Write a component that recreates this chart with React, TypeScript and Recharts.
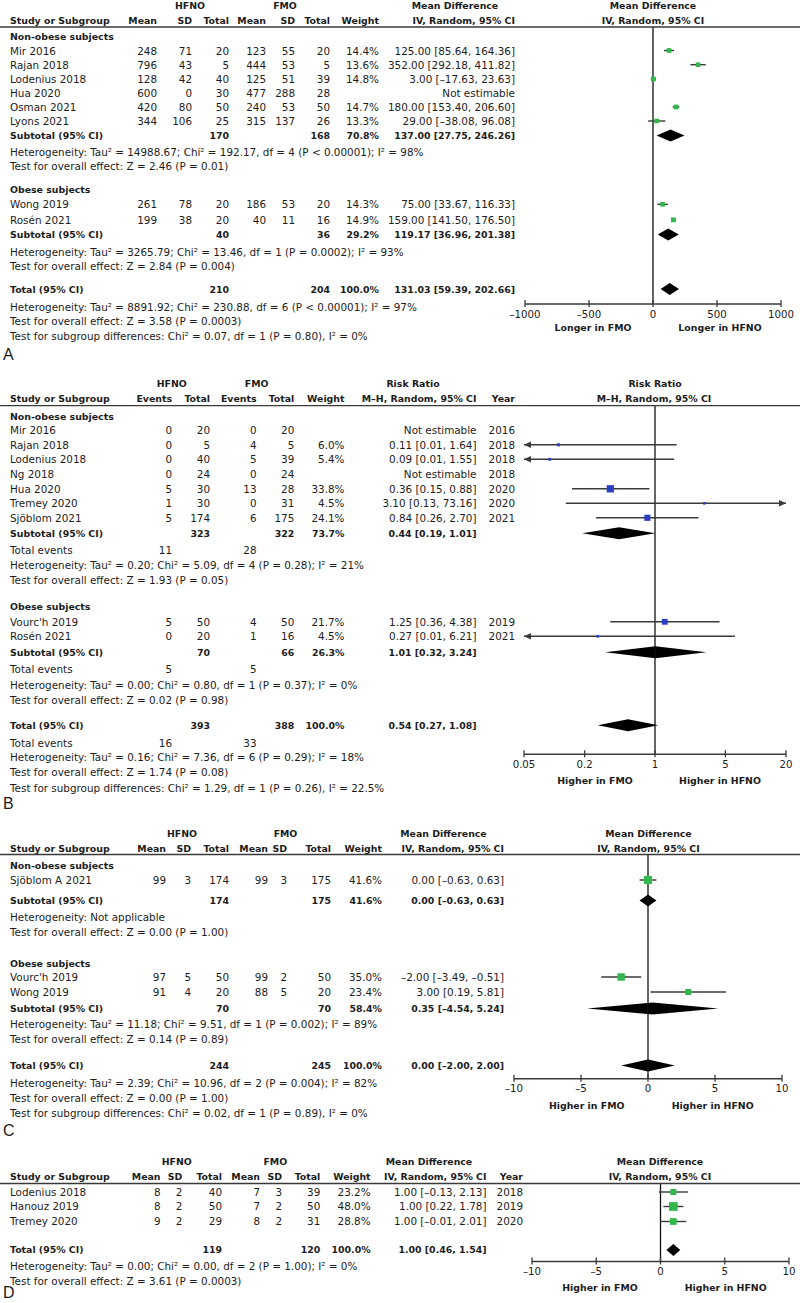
import React from "react";
import { ScatterChart, Scatter, XAxis, YAxis, ReferenceLine, ReferenceArea } from "recharts";

// ---------------- Panel A data (Mean Difference) ----------------
const aNonObese = [
  { study: "Mir 2016", hMean: 248, hSD: 71, hN: 20, fMean: 123, fSD: 55, fN: 20, weight: 14.4, est: 125.0, lo: 85.64, hi: 164.36 },
  { study: "Rajan 2018", hMean: 796, hSD: 43, hN: 5, fMean: 444, fSD: 53, fN: 5, weight: 13.6, est: 352.0, lo: 292.18, hi: 411.82 },
  { study: "Lodenius 2018", hMean: 128, hSD: 42, hN: 40, fMean: 125, fSD: 51, fN: 39, weight: 14.8, est: 3.0, lo: -17.63, hi: 23.63 },
  { study: "Hua 2020", hMean: 600, hSD: 0, hN: 30, fMean: 477, fSD: 288, fN: 28, weight: null, est: null, lo: null, hi: null },
  { study: "Osman 2021", hMean: 420, hSD: 80, hN: 50, fMean: 240, fSD: 53, fN: 50, weight: 14.7, est: 180.0, lo: 153.4, hi: 206.6 },
  { study: "Lyons 2021", hMean: 344, hSD: 106, hN: 25, fMean: 315, fSD: 137, fN: 26, weight: 13.3, est: 29.0, lo: -38.08, hi: 96.08 },
];
const aNonObeseSub = { hN: 170, fN: 168, weight: 70.8, est: 137.0, lo: 27.75, hi: 246.26 };
const aNonObeseStats = [
  "Heterogeneity: Tau² = 14988.67; Chi² = 192.17, df = 4 (P < 0.00001); I² = 98%",
  "Test for overall effect: Z = 2.46 (P = 0.01)",
];
const aObese = [
  { study: "Wong 2019", hMean: 261, hSD: 78, hN: 20, fMean: 186, fSD: 53, fN: 20, weight: 14.3, est: 75.0, lo: 33.67, hi: 116.33 },
  { study: "Rosén 2021", hMean: 199, hSD: 38, hN: 20, fMean: 40, fSD: 11, fN: 16, weight: 14.9, est: 159.0, lo: 141.5, hi: 176.5 },
];
const aObeseSub = { hN: 40, fN: 36, weight: 29.2, est: 119.17, lo: 36.96, hi: 201.38 };
const aObeseStats = [
  "Heterogeneity: Tau² = 3265.79; Chi² = 13.46, df = 1 (P = 0.0002); I² = 93%",
  "Test for overall effect: Z = 2.84 (P = 0.004)",
];
const aTotal = { hN: 210, fN: 204, weight: 100, est: 131.03, lo: 59.39, hi: 202.66 };
const aTotalStats = [
  "Heterogeneity: Tau² = 8891.92; Chi² = 230.88, df = 6 (P < 0.00001); I² = 97%",
  "Test for overall effect: Z = 3.58 (P = 0.0003)",
  "Test for subgroup differences: Chi² = 0.07, df = 1 (P = 0.80), I² = 0%",
];
const aTicks = [-1000, -500, 0, 500, 1000];

// ---------------- Panel B data (Risk Ratio) ----------------
const bNonObese = [
  { study: "Mir 2016", hEv: 0, hN: 20, fEv: 0, fN: 20, weight: null, est: null, lo: null, hi: null, year: 2016 },
  { study: "Rajan 2018", hEv: 0, hN: 5, fEv: 4, fN: 5, weight: 6.0, est: 0.11, lo: 0.01, hi: 1.64, year: 2018 },
  { study: "Lodenius 2018", hEv: 0, hN: 40, fEv: 5, fN: 39, weight: 5.4, est: 0.09, lo: 0.01, hi: 1.55, year: 2018 },
  { study: "Ng 2018", hEv: 0, hN: 24, fEv: 0, fN: 24, weight: null, est: null, lo: null, hi: null, year: 2018 },
  { study: "Hua 2020", hEv: 5, hN: 30, fEv: 13, fN: 28, weight: 33.8, est: 0.36, lo: 0.15, hi: 0.88, year: 2020 },
  { study: "Tremey 2020", hEv: 1, hN: 30, fEv: 0, fN: 31, weight: 4.5, est: 3.1, lo: 0.13, hi: 73.16, year: 2020 },
  { study: "Sjöblom 2021", hEv: 5, hN: 174, fEv: 6, fN: 175, weight: 24.1, est: 0.84, lo: 0.26, hi: 2.7, year: 2021 },
];
const bNonObeseSub = { hN: 323, fN: 322, weight: 73.7, est: 0.44, lo: 0.19, hi: 1.01, hEv: 11, fEv: 28 };
const bNonObeseStats = [
  "Heterogeneity: Tau² = 0.20; Chi² = 5.09, df = 4 (P = 0.28); I² = 21%",
  "Test for overall effect: Z = 1.93 (P = 0.05)",
];
const bObese = [
  { study: "Vourc'h 2019", hEv: 5, hN: 50, fEv: 4, fN: 50, weight: 21.7, est: 1.25, lo: 0.36, hi: 4.38, year: 2019 },
  { study: "Rosén 2021", hEv: 0, hN: 20, fEv: 1, fN: 16, weight: 4.5, est: 0.27, lo: 0.01, hi: 6.21, year: 2021 },
];
const bObeseSub = { hN: 70, fN: 66, weight: 26.3, est: 1.01, lo: 0.32, hi: 3.24, hEv: 5, fEv: 5 };
const bObeseStats = [
  "Heterogeneity: Tau² = 0.00; Chi² = 0.80, df = 1 (P = 0.37); I² = 0%",
  "Test for overall effect: Z = 0.02 (P = 0.98)",
];
const bTotal = { hN: 393, fN: 388, weight: 100, est: 0.54, lo: 0.27, hi: 1.08, hEv: 16, fEv: 33 };
const bTotalStats = [
  "Heterogeneity: Tau² = 0.16; Chi² = 7.36, df = 6 (P = 0.29); I² = 18%",
  "Test for overall effect: Z = 1.74 (P = 0.08)",
  "Test for subgroup differences: Chi² = 1.29, df = 1 (P = 0.26), I² = 22.5%",
];
const bTicks = [0.05, 0.2, 1, 5, 20];

// ---------------- Panel C data ----------------
const cNonObese = [
  { study: "Sjöblom A 2021", hMean: 99, hSD: 3, hN: 174, fMean: 99, fSD: 3, fN: 175, weight: 41.6, est: 0.0, lo: -0.63, hi: 0.63 },
];
const cNonObeseSub = { hN: 174, fN: 175, weight: 41.6, est: 0.0, lo: -0.63, hi: 0.63 };
const cNonObeseStats = ["Heterogeneity: Not applicable", "Test for overall effect: Z = 0.00 (P = 1.00)"];
const cObese = [
  { study: "Vourc'h 2019", hMean: 97, hSD: 5, hN: 50, fMean: 99, fSD: 2, fN: 50, weight: 35.0, est: -2.0, lo: -3.49, hi: -0.51 },
  { study: "Wong 2019", hMean: 91, hSD: 4, hN: 20, fMean: 88, fSD: 5, fN: 20, weight: 23.4, est: 3.0, lo: 0.19, hi: 5.81 },
];
const cObeseSub = { hN: 70, fN: 70, weight: 58.4, est: 0.35, lo: -4.54, hi: 5.24 };
const cObeseStats = [
  "Heterogeneity: Tau² = 11.18; Chi² = 9.51, df = 1 (P = 0.002); I² = 89%",
  "Test for overall effect: Z = 0.14 (P = 0.89)",
];
const cTotal = { hN: 244, fN: 245, weight: 100, est: 0.0, lo: -2.0, hi: 2.0 };
const cTotalStats = [
  "Heterogeneity: Tau² = 2.39; Chi² = 10.96, df = 2 (P = 0.004); I² = 82%",
  "Test for overall effect: Z = 0.00 (P = 1.00)",
  "Test for subgroup differences: Chi² = 0.02, df = 1 (P = 0.89), I² = 0%",
];
const cTicks = [-10, -5, 0, 5, 10];

// ---------------- Panel D data ----------------
const dStudies = [
  { study: "Lodenius 2018", hMean: 8, hSD: 2, hN: 40, fMean: 7, fSD: 3, fN: 39, weight: 23.2, est: 1.0, lo: -0.13, hi: 2.13, year: 2018 },
  { study: "Hanouz 2019", hMean: 8, hSD: 2, hN: 50, fMean: 7, fSD: 2, fN: 50, weight: 48.0, est: 1.0, lo: 0.22, hi: 1.78, year: 2019 },
  { study: "Tremey 2020", hMean: 9, hSD: 2, hN: 29, fMean: 8, fSD: 2, fN: 31, weight: 28.8, est: 1.0, lo: -0.01, hi: 2.01, year: 2020 },
];
const dTotal = { hN: 119, fN: 120, weight: 100, est: 1.0, lo: 0.46, hi: 1.54 };
const dTotalStats = [
  "Heterogeneity: Tau² = 0.00; Chi² = 0.00, df = 2 (P = 1.00); I² = 0%",
  "Test for overall effect: Z = 3.61 (P = 0.0003)",
];
const dTicks = [-10, -5, 0, 5, 10];

// ---------------- Layout (row positions in page pixels) ----------------
const LA = { h1: 5.5, h2: 20, rule: 27, g1: 36, s1: [50.5, 64.7, 79, 93, 107, 121], sub1: 135.5, st1: [152, 166], g2: 189.3, s2: [204.3, 219.8], sub2: 234.5, st2: [251.5, 266], tot: 289, stT: [307, 321, 336], label: 354, axis: 304, dir: 327 };
const LB = { h1: 383.3, h2: 398.3, rule: 405.7, g1: 416, s1: [430, 444.5, 459, 473.7, 488.5, 503, 517.5], sub1: 533, ev1: 550, st1: [565, 580], g2: 606.8, s2: [621.5, 636], sub2: 652, ev2: 669, st2: [684.5, 699.7], tot: 725, evT: 742.5, stT: [757, 772, 787.5], label: 803, axis: 754, dir: 780 };
const LC = { h1: 833.5, h2: 848.5, rule: 854.5, g1: 865.5, s1: [879.5], sub1: 900, st1: [917, 932], g2: 963.5, s2: [976.5, 991.5], sub2: 1008, st2: [1024, 1038.5], tot: 1065, stT: [1082.5, 1097.5, 1112.8], label: 1130, axis: 1078.3, dir: 1105.7 };
const LD = { h1: 1161, h2: 1176, rule: 1183.5, s1: [1191.5, 1206, 1221], tot: 1249.5, stT: [1265.5, 1281], label: 1292, axis: 1261, dir: 1287.3 };

const FONT = "'DejaVu Sans', Verdana, sans-serif";
const INK = "#1c1c1c";
const RULE = "#3a3a3a";
const CI_COLOR = "#3a3a3a";
const GREEN = "#33b64b";
const BLUE = "#2b3fc6";
const REG = 10.4;
const BOLD = 9.4;

const f2 = (v: number) => (v < 0 ? "–" : "") + Math.abs(v).toFixed(2);
const ciText = (r: any) => (r.est == null ? "Not estimable" : `${f2(r.est)} [${f2(r.lo)}, ${f2(r.hi)}]`);
const wText = (w: number | null) => (w == null ? "" : `${w.toFixed(1)}%`);
const tickFmt = (v: number) => (v < 0 ? "–" + Math.abs(v) : String(v));

type Cell = { x: number; y: number; t: string | number; a?: "start" | "middle" | "end"; b?: boolean };
type Cols = { hMean?: number; hSD?: number; hEv?: number; hN: number; fMean?: number; fSD?: number; fEv?: number; fN: number; weight: number; ci: number; year?: number };

function studyCells(r: any, y: number, c: Cols): Cell[] {
  const o: Cell[] = [{ x: 10, y, t: r.study }];
  if (c.hMean != null) o.push({ x: c.hMean, y, t: r.hMean, a: "end" }, { x: c.hSD!, y, t: r.hSD, a: "end" });
  if (c.hEv != null) o.push({ x: c.hEv, y, t: r.hEv, a: "end" });
  o.push({ x: c.hN, y, t: r.hN, a: "end" });
  if (c.fMean != null) o.push({ x: c.fMean, y, t: r.fMean, a: "end" }, { x: c.fSD!, y, t: r.fSD, a: "end" });
  if (c.fEv != null) o.push({ x: c.fEv, y, t: r.fEv, a: "end" });
  o.push({ x: c.fN, y, t: r.fN, a: "end" });
  o.push({ x: c.weight, y, t: wText(r.weight), a: "end" });
  o.push({ x: c.ci, y, t: ciText(r), a: "end" });
  if (c.year != null && r.year != null) o.push({ x: c.year, y, t: r.year, a: "end" });
  return o;
}
function summaryCells(label: string, r: any, y: number, c: Cols): Cell[] {
  return [
    { x: 10, y, t: label, b: true },
    { x: c.hN, y, t: r.hN, a: "end", b: true },
    { x: c.fN, y, t: r.fN, a: "end", b: true },
    { x: c.weight, y, t: wText(r.weight), a: "end", b: true },
    { x: c.ci, y, t: ciText(r), a: "end", b: true },
  ];
}
function eventCells(r: any, y: number, c: Cols): Cell[] {
  return [
    { x: 10, y, t: "Total events" },
    { x: c.hEv!, y, t: r.hEv, a: "end" },
    { x: c.fEv!, y, t: r.fEv, a: "end" },
  ];
}
function headerCells(y: number, c: Cols, ciHead: string): Cell[] {
  const o: Cell[] = [{ x: 10, y, t: "Study or Subgroup", b: true }];
  if (c.hMean != null) o.push({ x: c.hMean, y, t: "Mean", a: "end", b: true }, { x: c.hSD!, y, t: "SD", a: "end", b: true });
  if (c.hEv != null) o.push({ x: c.hEv, y, t: "Events", a: "end", b: true });
  o.push({ x: c.hN, y, t: "Total", a: "end", b: true });
  if (c.fMean != null) o.push({ x: c.fMean, y, t: "Mean", a: "end", b: true }, { x: c.fSD!, y, t: "SD", a: "end", b: true });
  if (c.fEv != null) o.push({ x: c.fEv, y, t: "Events", a: "end", b: true });
  o.push({ x: c.fN, y, t: "Total", a: "end", b: true });
  o.push({ x: c.weight, y, t: "Weight", a: "end", b: true });
  o.push({ x: c.ci, y, t: ciHead, a: "end", b: true });
  if (c.year != null) o.push({ x: c.year, y, t: "Year", a: "end", b: true });
  return o;
}
const statCells = (lines: string[], ys: number[]): Cell[] => lines.map((t, i) => ({ x: 10, y: ys[i], t }));

const colsA: Cols = { hMean: 157, hSD: 192, hN: 229, fMean: 266, fSD: 295, fN: 330, weight: 379, ci: 515 };
const colsB: Cols = { hEv: 172, hN: 210, fEv: 256.5, fN: 294.3, weight: 344.5, ci: 476.5, year: 515 };
const colsC: Cols = { hMean: 166, hSD: 191, hN: 229, fMean: 268, fSD: 287, fN: 331, weight: 382, ci: 504 };
const colsD: Cols = { hMean: 160.5, hSD: 182.4, hN: 222, fMean: 260, fSD: 282, fN: 320.3, weight: 370.6, ci: 486.5, year: 523 };

function allCells(): Cell[] {
  const o: Cell[] = [];
  // A
  o.push(
    { x: 190, y: LA.h1, t: "HFNO", a: "middle", b: true },
    { x: 285, y: LA.h1, t: "FMO", a: "middle", b: true },
    { x: 455, y: LA.h1, t: "Mean Difference", a: "middle", b: true },
    { x: 653, y: LA.h1, t: "Mean Difference", a: "middle", b: true },
    ...headerCells(LA.h2, colsA, "IV, Random, 95% CI"),
    { x: 653, y: LA.h2, t: "IV, Random, 95% CI", a: "middle", b: true },
    { x: 10, y: LA.g1, t: "Non-obese subjects", b: true }
  );
  aNonObese.forEach((r, i) => o.push(...studyCells(r, LA.s1[i], colsA)));
  o.push(...summaryCells("Subtotal (95% CI)", aNonObeseSub, LA.sub1, colsA), ...statCells(aNonObeseStats, LA.st1));
  o.push({ x: 10, y: LA.g2, t: "Obese subjects", b: true });
  aObese.forEach((r, i) => o.push(...studyCells(r, LA.s2[i], colsA)));
  o.push(...summaryCells("Subtotal (95% CI)", aObeseSub, LA.sub2, colsA), ...statCells(aObeseStats, LA.st2));
  o.push(...summaryCells("Total (95% CI)", aTotal, LA.tot, colsA), ...statCells(aTotalStats, LA.stT));
  o.push({ x: 593, y: LA.dir, t: "Longer in FMO", a: "middle", b: true }, { x: 720, y: LA.dir, t: "Longer in HFNO", a: "middle", b: true });

  // B
  o.push(
    { x: 171.7, y: LB.h1, t: "HFNO", a: "middle", b: true },
    { x: 256.7, y: LB.h1, t: "FMO", a: "middle", b: true },
    { x: 413, y: LB.h1, t: "Risk Ratio", a: "middle", b: true },
    { x: 655, y: LB.h1, t: "Risk Ratio", a: "middle", b: true },
    ...headerCells(LB.h2, colsB, "M–H, Random, 95% CI"),
    { x: 654, y: LB.h2, t: "M–H, Random, 95% CI", a: "middle", b: true },
    { x: 10, y: LB.g1, t: "Non-obese subjects", b: true }
  );
  bNonObese.forEach((r, i) => o.push(...studyCells(r, LB.s1[i], colsB)));
  o.push(...summaryCells("Subtotal (95% CI)", bNonObeseSub, LB.sub1, colsB), ...eventCells(bNonObeseSub, LB.ev1, colsB), ...statCells(bNonObeseStats, LB.st1));
  o.push({ x: 10, y: LB.g2, t: "Obese subjects", b: true });
  bObese.forEach((r, i) => o.push(...studyCells(r, LB.s2[i], colsB)));
  o.push(...summaryCells("Subtotal (95% CI)", bObeseSub, LB.sub2, colsB), ...eventCells(bObeseSub, LB.ev2, colsB), ...statCells(bObeseStats, LB.st2));
  o.push(...summaryCells("Total (95% CI)", bTotal, LB.tot, colsB), ...eventCells(bTotal, LB.evT, colsB), ...statCells(bTotalStats, LB.stT));
  o.push({ x: 595, y: LB.dir, t: "Higher in FMO", a: "middle", b: true }, { x: 720, y: LB.dir, t: "Higher in HFNO", a: "middle", b: true });

  // C
  o.push(
    { x: 182, y: LC.h1, t: "HFNO", a: "middle", b: true },
    { x: 285.5, y: LC.h1, t: "FMO", a: "middle", b: true },
    { x: 443.5, y: LC.h1, t: "Mean Difference", a: "middle", b: true },
    { x: 648.5, y: LC.h1, t: "Mean Difference", a: "middle", b: true },
    ...headerCells(LC.h2, colsC, "IV, Random, 95% CI"),
    { x: 648.5, y: LC.h2, t: "IV, Random, 95% CI", a: "middle", b: true },
    { x: 10, y: LC.g1, t: "Non-obese subjects", b: true }
  );
  cNonObese.forEach((r, i) => o.push(...studyCells(r, LC.s1[i], colsC)));
  o.push(...summaryCells("Subtotal (95% CI)", cNonObeseSub, LC.sub1, colsC), ...statCells(cNonObeseStats, LC.st1));
  o.push({ x: 10, y: LC.g2, t: "Obese subjects", b: true });
  cObese.forEach((r, i) => o.push(...studyCells(r, LC.s2[i], colsC)));
  o.push(...summaryCells("Subtotal (95% CI)", cObeseSub, LC.sub2, colsC), ...statCells(cObeseStats, LC.st2));
  o.push(...summaryCells("Total (95% CI)", cTotal, LC.tot, colsC), ...statCells(cTotalStats, LC.stT));
  o.push({ x: 586.7, y: LC.dir, t: "Higher in FMO", a: "middle", b: true }, { x: 712.7, y: LC.dir, t: "Higher in HFNO", a: "middle", b: true });

  // D
  o.push(
    { x: 176.7, y: LD.h1, t: "HFNO", a: "middle", b: true },
    { x: 275.3, y: LD.h1, t: "FMO", a: "middle", b: true },
    { x: 429, y: LD.h1, t: "Mean Difference", a: "middle", b: true },
    { x: 660, y: LD.h1, t: "Mean Difference", a: "middle", b: true },
    ...headerCells(LD.h2, colsD, "IV, Random, 95% CI"),
    { x: 660, y: LD.h2, t: "IV, Random, 95% CI", a: "middle", b: true }
  );
  dStudies.forEach((r, i) => o.push(...studyCells(r, LD.s1[i], colsD)));
  o.push(...summaryCells("Total (95% CI)", dTotal, LD.tot, colsD), ...statCells(dTotalStats, LD.stT));
  o.push({ x: 600, y: LD.dir, t: "Higher in FMO", a: "middle", b: true }, { x: 725.7, y: LD.dir, t: "Higher in HFNO", a: "middle", b: true });
  return o;
}

// ---------------- Forest plot (Recharts) ----------------
type Mark = { y: number; est: number; lo: number; hi: number; w?: number };
type PlotCfg = { left: number; right: number; domain: [number, number]; log?: boolean; ticks: number[]; top: number; axis: number; nullX: number; color: string };

const marksOf = (rows: any[], ys: number[]): Mark[] =>
  rows.map((r, i) => ({ y: ys[i], est: r.est, lo: r.lo, hi: r.hi, w: r.weight })).filter((m) => m.est != null);

const makeTick = (axisPix: number) => (p: any) => (
  <g>
    <line x1={p.x} x2={p.x} y1={axisPix - 4} y2={axisPix + 3} stroke={RULE} strokeWidth={1.3} />
    <text x={p.x} y={axisPix + 10} textAnchor="middle" dominantBaseline="central" fontFamily={FONT} fontSize={10.2} fill={INK}>
      {tickFmt(p.payload.value)}
    </text>
  </g>
);

const ciShape = (la: boolean, ra: boolean) => (p: any) => {
  const { x1, y1, x2, y2 } = p;
  return (
    <g>
      <line x1={x1} y1={y1} x2={x2} y2={y2} stroke={CI_COLOR} strokeWidth={1.4} />
      {la && <path d={`M${x1},${y1} l7,-3.2 l0,6.4 z`} fill={CI_COLOR} />}
      {ra && <path d={`M${x2},${y2} l-7,-3.2 l0,6.4 z`} fill={CI_COLOR} />}
    </g>
  );
};

const diamondShape = (frac: number) => (p: any) => {
  const { x, y, width, height } = p;
  const cx = x + width * frac;
  const cy = y + height / 2;
  return <polygon points={`${x},${cy} ${cx},${y} ${x + width},${cy} ${cx},${y + height}`} fill="#000" />;
};

function Forest({ cfg, studies, summaries }: { cfg: PlotCfg; studies: Mark[]; summaries: Mark[] }) {
  const height = cfg.axis - cfg.top + 24;
  const axisPix = cfg.axis - cfg.top;
  const [dMin, dMax] = cfg.domain;
  const pos = (v: number) => (cfg.log ? Math.log(v) : v);
  const squares = studies.map((s) => ({ x: s.est, y: s.y, w: s.w }));
  const squareShape = (p: any) => {
    const s = 1.25 * Math.sqrt(p.payload.w);
    return <rect x={p.cx - s / 2} y={p.cy - s / 2} width={s} height={s} fill={cfg.color} />;
  };
  return (
    <div style={{ position: "absolute", left: 0, top: cfg.top, width: 800, height }}>
      <ScatterChart width={800} height={height} margin={{ top: 0, right: 800 - cfg.right, bottom: 0, left: cfg.left }}>
        <XAxis
          type="number"
          dataKey="x"
          scale={cfg.log ? "log" : "linear"}
          domain={cfg.domain}
          ticks={cfg.ticks}
          interval={0}
          allowDataOverflow
          height={24}
          axisLine={{ stroke: RULE, strokeWidth: 1.4 }}
          tickLine={false}
          tickSize={0}
          tickMargin={0}
          tick={makeTick(axisPix)}
        />
        <YAxis type="number" dataKey="y" domain={[cfg.top, cfg.axis]} reversed hide allowDataOverflow />
        <ReferenceLine x={cfg.nullX} stroke="#111" strokeWidth={1.3} ifOverflow="visible" />
        {studies.map((s, i) => (
          <ReferenceLine
            key={"ci" + i}
            segment={[{ x: Math.max(s.lo, dMin), y: s.y }, { x: Math.min(s.hi, dMax), y: s.y }]}
            ifOverflow="visible"
            shape={ciShape(s.lo < dMin, s.hi > dMax)}
          />
        ))}
        {summaries.map((d, i) => (
          <ReferenceArea
            key={"dm" + i}
            x1={d.lo}
            x2={d.hi}
            y1={d.y - 6}
            y2={d.y + 6}
            ifOverflow="visible"
            shape={diamondShape((pos(d.est) - pos(d.lo)) / (pos(d.hi) - pos(d.lo)))}
          />
        ))}
        <Scatter data={squares} isAnimationActive={false} shape={squareShape} />
      </ScatterChart>
    </div>
  );
}

const cfgA: PlotCfg = { left: 525, right: 781, domain: [-1000, 1000], ticks: aTicks, top: LA.rule, axis: LA.axis, nullX: 0, color: GREEN };
const cfgB: PlotCfg = { left: 524, right: 786, domain: [0.05, 20], log: true, ticks: bTicks, top: LB.rule, axis: LB.axis, nullX: 1, color: BLUE };
const cfgC: PlotCfg = { left: 514, right: 782, domain: [-10, 10], ticks: cTicks, top: LC.rule, axis: LC.axis, nullX: 0, color: GREEN };
const cfgD: PlotCfg = { left: 532, right: 789, domain: [-10, 10], ticks: dTicks, top: LD.rule, axis: LD.axis, nullX: 0, color: GREEN };

export default function App() {
  const cells = allCells();
  const aStudies = [...marksOf(aNonObese, LA.s1), ...marksOf(aObese, LA.s2)];
  const aSum = [
    { y: LA.sub1, ...aNonObeseSub },
    { y: LA.sub2, ...aObeseSub },
    { y: LA.tot, ...aTotal },
  ];
  const bStudies = [...marksOf(bNonObese, LB.s1), ...marksOf(bObese, LB.s2)];
  const bSum = [
    { y: LB.sub1, ...bNonObeseSub },
    { y: LB.sub2, ...bObeseSub },
    { y: LB.tot, ...bTotal },
  ];
  const cStudies = [...marksOf(cNonObese, LC.s1), ...marksOf(cObese, LC.s2)];
  const cSum = [
    { y: LC.sub1, ...cNonObeseSub },
    { y: LC.sub2, ...cObeseSub },
    { y: LC.tot, ...cTotal },
  ];
  const dMarks = marksOf(dStudies, LD.s1);
  const dSum = [{ y: LD.tot, ...dTotal }];
  const labels = [
    { t: "A", y: LA.label },
    { t: "B", y: LB.label },
    { t: "C", y: LC.label },
    { t: "D", y: LD.label },
  ];
  const rules = [LA.rule, LB.rule, LC.rule, LD.rule];

  return (
    <div style={{ position: "absolute", left: 0, top: 0, width: 800, height: 1303, background: "#fff", overflow: "hidden" }}>
      <Forest cfg={cfgA} studies={aStudies} summaries={aSum} />
      <Forest cfg={cfgB} studies={bStudies} summaries={bSum} />
      <Forest cfg={cfgC} studies={cStudies} summaries={cSum} />
      <Forest cfg={cfgD} studies={dMarks} summaries={dSum} />
      <svg width={800} height={1303} style={{ position: "absolute", left: 0, top: 0, pointerEvents: "none" }}>
        {rules.map((y, i) => (
          <line key={"r" + i} x1={0} x2={800} y1={y} y2={y} stroke={RULE} strokeWidth={1.3} />
        ))}
        {cells.map((c, i) => (
          <text
            key={i}
            x={c.x}
            y={c.y}
            textAnchor={c.a ?? "start"}
            dominantBaseline="central"
            fontFamily={FONT}
            fontSize={c.b ? BOLD : REG}
            fontWeight={c.b ? 700 : 400}
            fill={INK}
          >
            {c.t}
          </text>
        ))}
        {labels.map((l) => (
          <text key={l.t} x={3} y={l.y} dominantBaseline="central" fontFamily="'Liberation Sans', Arial, sans-serif" fontSize={16} fill={INK}>
            {l.t}
          </text>
        ))}
      </svg>
    </div>
  );
}
